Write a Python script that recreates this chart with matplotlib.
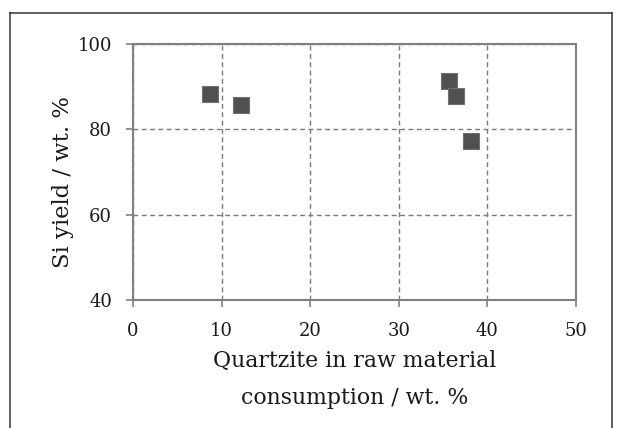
import matplotlib
matplotlib.use("Agg")
import matplotlib.pyplot as plt
from matplotlib.lines import Line2D

# values
quartzite = [8.7, 12.2, 35.7, 36.5, 38.1]
si_yield = [88.2, 85.6, 91.3, 87.9, 77.3]
x_ticks = [0, 10, 20, 30, 40, 50]
y_ticks = [40, 60, 80, 100]

plt.rcParams["font.family"] = ["DejaVu Serif"]

W, H = 619, 428
fig = plt.figure(figsize=(W / 100, H / 100), dpi=100)
ax = fig.add_axes([133 / W, 1 - 300 / H, (576 - 133) / W, (300 - 44) / H])

ax.scatter(quartzite, si_yield, marker="s", s=120, color="#505050",
           edgecolors="#707070", linewidths=0.8, zorder=3)

ax.set_xlim(0, 50)
ax.set_ylim(40, 100)
ax.set_xticks(x_ticks)
ax.set_yticks(y_ticks)
ax.grid(True, color="#7a7a7a", linestyle=(0, (3.5, 2.5)), linewidth=1.0)
for sp in ax.spines.values():
    sp.set_color("#808080")
    sp.set_linewidth(1.5)
ax.tick_params(axis="both", colors="#808080", length=5, width=1.2,
               labelcolor="#1a1a1a", labelsize=13)
ax.tick_params(axis="x", pad=11)
ax.tick_params(axis="y", pad=10)

ax.set_ylabel("Si yield / wt. %", fontsize=16.3, color="#1a1a1a")
ax.yaxis.set_label_coords(-0.133, 0.46)
ax.set_xlabel("Quartzite in raw material\nconsumption / wt. %", fontsize=15.8,
              color="#1a1a1a", labelpad=7, linespacing=1.9)

# outer frame (left, top, right edges only)
fc = "#333333"
fig.add_artist(Line2D([10 / W, 10 / W], [0, 1 - 13 / H], color=fc, lw=1.1))
fig.add_artist(Line2D([10 / W, 612 / W], [1 - 13 / H, 1 - 13 / H], color=fc, lw=1.1))
fig.add_artist(Line2D([612 / W, 612 / W], [0, 1 - 13 / H], color=fc, lw=1.1))

fig.savefig("out.png", dpi=100)
